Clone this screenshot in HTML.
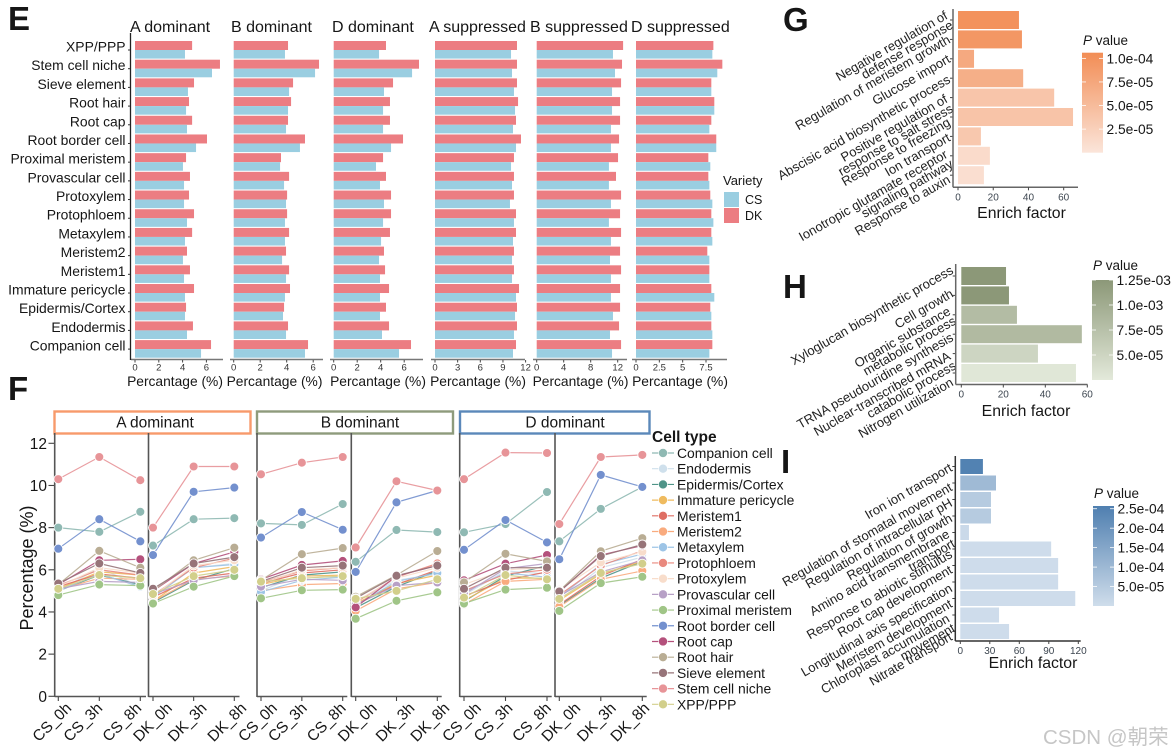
<!DOCTYPE html>
<html lang="en">
<head>
<meta charset="utf-8">
<title>Cell type expression panels</title>
<style>
html,body{margin:0;padding:0;background:#fff;}
svg{display:block;font-family:"Liberation Sans","Noto Sans CJK SC",sans-serif;}
text{fill:#161616;}
</style>
</head>
<body>
<svg id="figure" xmlns="http://www.w3.org/2000/svg" width="1174" height="756" viewBox="0 0 1174 756">
  <defs>
    <linearGradient id="gradG" x1="0" y1="0" x2="0" y2="1"><stop offset="0" stop-color="#F28D55"/><stop offset="1" stop-color="#FBE5DA"/></linearGradient>
    <linearGradient id="gradH" x1="0" y1="0" x2="0" y2="1"><stop offset="0" stop-color="#8C9878"/><stop offset="1" stop-color="#E3E9DA"/></linearGradient>
    <linearGradient id="gradI" x1="0" y1="0" x2="0" y2="1"><stop offset="0" stop-color="#4F7FB0"/><stop offset="1" stop-color="#CFDDEB"/></linearGradient>
  </defs>
  <text x="8" y="30" font-size="33" font-weight="bold">E</text>
  <text x="8" y="400" font-size="33" font-weight="bold">F</text>
  <text x="783" y="31" font-size="33" font-weight="bold">G</text>
  <text x="783" y="298" font-size="33" font-weight="bold">H</text>
  <text x="781" y="473" font-size="33" font-weight="bold">I</text>
  <text x="723" y="185" font-size="13">Variety</text>
  <rect x="724" y="192" width="15" height="15" fill="#9ACEE1"/>
  <rect x="724" y="208" width="15" height="15" fill="#EC7D82"/>
  <text x="745" y="204" font-size="12.5">CS</text>
  <text x="745" y="220" font-size="12.5">DK</text>
  <text x="652" y="442" font-size="15.5" font-weight="bold">Cell type</text>
  <text transform="translate(33,568) rotate(-90)" text-anchor="middle" font-size="18">Percentage (%)</text>
  <text x="1043" y="744" font-size="20.5" style="fill:#c6c6c6">CSDN @朝荣</text>
</svg>
<script>
// ---------- Panel E data (top to bottom) ----------
const cellTypesE = ['XPP/PPP','Stem cell niche','Sieve element','Root hair','Root cap','Root border cell','Proximal meristem','Provascular cell','Protoxylem','Protophloem','Metaxylem','Meristem2','Meristem1','Immature pericycle','Epidermis/Cortex','Endodermis','Companion cell'];
const aDominantDK = [4.8,7.14,4.96,4.54,4.8,6.05,4.29,4.62,4.54,4.96,4.8,4.37,4.62,4.96,4.29,4.87,6.39];
const aDominantCS = [4.2,6.47,4.45,4.29,4.37,5.13,4.03,4.12,4.12,4.37,4.2,4.03,4.12,4.2,4.2,4.37,5.55];
const bDominantDK = [4.1,6.44,4.48,4.33,4.1,5.38,3.57,4.18,4.03,4.03,4.18,3.95,4.18,4.25,3.8,4.1,5.61];
const bDominantCS = [3.87,6.14,4.18,4.1,3.95,5.0,3.5,3.8,3.95,3.87,3.87,3.65,3.95,3.87,3.72,3.95,5.38];
const dDominantDK = [4.45,7.26,5.05,4.79,4.79,5.9,4.2,4.45,4.88,4.88,4.79,4.28,4.37,4.71,4.45,4.71,6.58];
const dDominantCS = [3.86,6.67,4.28,4.2,4.2,4.88,3.6,3.94,4.28,4.2,4.03,3.86,3.94,3.94,3.94,4.11,5.56];
const aSuppressedDK = [10.86,10.86,10.86,11,10.73,11.39,10.46,10.46,10.46,10.73,10.73,10.46,10.46,11.13,10.86,10.86,10.73];
const aSuppressedCS = [10.07,10.2,10.46,10.6,10.33,10.73,10.07,10.2,9.93,10.46,10.33,10.2,10.2,10.73,10.6,10.46,10.33];
const bSuppressedDK = [12.8,12.64,12.5,12.35,12.35,12.2,12.05,11.75,12.5,12.35,12.5,12.35,12.5,12.35,12.35,12.2,12.5];
const bSuppressedCS = [11.3,11.6,11.16,11.16,11,11,10.7,10.7,11,10.7,11,10.86,11,11,11.3,10.86,11.16];
const dSuppressedDK = [8.29,9.25,8.07,8.39,8.07,8.6,7.75,7.75,7.96,8.07,8.07,7.64,7.86,8.07,7.96,8.07,8.18];
const dSuppressedCS = [8.18,8.71,8.07,8.39,7.86,8.6,7.96,7.86,8.18,8.29,8.18,7.86,7.86,8.39,8.07,8.18,7.86];
const ticksAB = [0,2,4,6];
const ticksASup = [0,3,6,9,12];
const ticksBSup = [0,4,8,12];
const ticksDSup = [0,2.5,5,7.5];

// ---------- Panel F data ----------
const legendTypes = ['Companion cell','Endodermis','Epidermis/Cortex','Immature pericycle','Meristem1','Meristem2','Metaxylem','Protophloem','Protoxylem','Provascular cell','Proximal meristem','Root border cell','Root cap','Root hair','Sieve element','Stem cell niche','XPP/PPP'];
const legendColors = ['#8FB9B3','#CFE0EC','#4F9488','#EFBB5F','#DF6E63','#F9AB7E','#9DC4E6','#E9897E','#F8DDCB','#B7A0C6','#A0C587','#7390CE','#B4517C','#B9AD94','#977479','#E79498','#D2CF8B'];
const timepoints = ['CS_0h','CS_3h','CS_8h','DK_0h','DK_3h','DK_8h'];
const yTicksF = [0,2,4,6,8,10,12];
// one row per legend entry: CS_0h, CS_3h, CS_8h, DK_0h, DK_3h, DK_8h
const aDominantLines = [
[8.0,7.8,8.75,7.15,8.4,8.45],
[5.0,6.1,5.2,4.7,6.1,6.3],
[5.0,5.75,5.3,4.45,5.5,6.05],
[5.1,5.9,5.75,4.5,5.85,6.15],
[5.2,5.8,5.6,4.7,5.6,5.85],
[5.05,5.6,5.55,4.5,5.55,5.7],
[5.0,5.8,5.2,4.7,6.1,6.25],
[5.25,6.0,5.75,4.8,6.1,6.55],
[5.2,6.1,5.85,4.75,6.2,6.45],
[5.1,5.45,5.4,4.85,5.5,5.75],
[4.8,5.3,5.25,4.4,5.2,5.7],
[7.0,8.4,7.35,6.7,9.7,9.9],
[5.3,6.45,6.5,5.0,6.3,6.85],
[5.3,6.9,6.1,5.0,6.45,7.05],
[5.35,6.3,5.85,5.1,6.3,6.6],
[10.3,11.35,10.25,8.0,10.9,10.9],
[5.1,5.75,5.6,4.85,5.7,6.0]];
const bDominantLines = [
[8.2,8.13,9.12,6.38,7.89,7.79],
[5.0,5.8,5.6,4.5,5.5,5.8],
[5.15,5.75,5.9,4.2,5.2,5.95],
[5.3,5.7,5.75,4.4,5.35,5.75],
[5.35,5.85,6.0,4.35,5.3,6.0],
[5.0,5.3,5.35,4.05,5.1,5.4],
[4.95,5.5,5.65,4.3,5.45,5.85],
[5.4,5.95,6.1,4.45,5.65,6.3],
[5.35,6.0,6.1,4.5,5.6,6.1],
[5.2,5.55,5.5,4.35,5.25,5.4],
[4.65,5.03,5.06,3.68,4.53,4.93],
[7.53,8.74,7.9,5.9,9.2,9.76],
[5.55,6.23,6.42,4.22,5.7,6.2],
[5.5,6.74,7.03,4.72,5.75,6.89],
[5.45,6.1,6.2,4.65,5.72,6.2],
[10.53,11.08,11.35,7.06,10.2,9.76],
[5.44,5.6,5.7,4.62,5.0,5.55]];
const dDominantLines = [
[7.78,8.17,9.69,7.35,8.89,9.93],
[4.8,5.95,5.8,4.55,6.1,6.6],
[4.5,5.7,6.2,4.3,5.6,6.4],
[4.55,5.6,5.6,4.55,5.8,6.4],
[4.75,5.5,5.9,4.35,5.7,6.5],
[4.36,5.45,5.55,4.25,5.55,5.95],
[4.95,5.85,5.65,4.7,6.25,6.75],
[5.0,5.8,6.0,4.8,6.2,6.9],
[5.3,6.0,6.1,5.05,6.35,6.85],
[4.85,6.05,6.3,4.75,5.9,6.45],
[4.4,5.06,5.15,4.05,5.37,5.67],
[6.95,8.36,7.3,6.5,10.5,9.93],
[5.5,6.29,6.7,4.95,6.7,7.15],
[5.4,6.76,6.4,5.0,6.88,7.5],
[5.1,6.1,6.1,4.97,6.65,7.2],
[10.3,11.56,11.54,8.17,11.35,11.45],
[4.68,5.75,5.55,4.62,5.85,6.29]];

// ---------- Panels G, H, I data ----------
const termsG = [['Negative regulation of','defense response'],['Regulation of meristem growth'],['Glucose import'],['Abscisic acid biosynthetic process'],['Positive regulation of','response to salt stress'],['Response to freezing'],['Ion transport'],['Ionotropic glutamate receptor','signaling pathway'],['Response to auxin']];
const enrichG = [34.6,36.3,9.1,37,54.6,65.3,13,18.1,14.7];
const pValueG = [1.0e-4,9.4e-5,7.2e-5,6.5e-5,3.8e-5,4.0e-5,3.5e-5,1.2e-5,0.8e-5];
const xTicksG = [0,20,40,60];
const pTicksG = [1.0e-4,7.5e-5,5.0e-5,2.5e-5];
const pLabelsG = ['1.0e-04','7.5e-05','5.0e-05','2.5e-05'];

const termsH = [['Xyloglucan biosynthetic process'],['Cell growth'],['Organic substance','metabolic process'],['TRNA pseudouridine synthesis'],['Nuclear-transcribed mRNA','catabolic process'],['Nitrogen utilization']];
const enrichH = [21.3,22.7,26.5,57.4,36.5,54.6];
const pValueH = [125,125,80,83,50,28];
const xTicksH = [0,20,40,60];
const pTicksH = [125,100,75,50];
const pLabelsH = ['1.25e-03','1.0e-03','7.5e-05','5.0e-05'];

const termsI = [['Iron ion transport'],['Regulation of stomatal movement'],['Regulation of intracellular pH'],['Regulation of growth'],['Amino acid transmembrane','transport'],['Response to abiotic stimulus'],['Root cap development'],['Longitudinal axis specification'],['Meristem development'],['Chloroplast accumulation','movement'],['Nitrate transport']];
const enrichI = [23,36.3,31.2,31.2,8.8,92.4,99.5,99.5,116.9,39.4,49.6];
const pValueI = [2.5e-4,0.96e-4,0.5e-4,0.5e-4,0.1e-4,0.02e-4,0.02e-4,0.02e-4,0.02e-4,0.02e-4,0.02e-4];
const xTicksI = [0,30,60,90,120];
const pTicksI = [2.5e-4,2.0e-4,1.5e-4,1.0e-4,5.0e-5];
const pLabelsI = ['2.5e-04','2.0e-04','1.5e-04','1.0e-04','5.0e-05'];

// ---------- helpers ----------
const svg = document.getElementById('figure');
const NS = 'http://www.w3.org/2000/svg';
function make(tag, props, parent) {
  const node = document.createElementNS(NS, tag);
  for (const k in props) node.setAttribute(k, props[k]);
  (parent || svg).appendChild(node);
  return node;
}
function linear(d0, d1, r0, r1) {
  return v => r0 + (v - d0) * (r1 - r0) / (d1 - d0);
}
function hex(c) { return [1,3,5].map(i => parseInt(c.substr(i,2),16)); }
function ramp(c0, c1, t) {
  t = Math.max(0, Math.min(1, t));
  const a = hex(c0), b = hex(c1);
  return 'rgb(' + a.map((v,i) => Math.round(v + (b[i]-v)*t)).join(',') + ')';
}

// ---------- Panel E ----------
const rowY = linear(0, 16, 41, 340.1);
function barPanel(cfg) {
  const g = make('g', {});
  
  
  const x = linear(0, cfg.tick1v, cfg.x0, cfg.tick1x);
  const title = make('text', {x: cfg.titleX, y: 32, 'font-size': 16}, g);
  title.textContent = cfg.title;
  
  
  cellTypesE.forEach((c, i) => {
    const red = make('rect', {x: cfg.x0, y: rowY(i), width: x(cfg.dk[i]) - cfg.x0, height: 9, fill: '#EC7D82'}, g);
    
    
    const blue = make('rect', {x: cfg.x0, y: rowY(i) + 9, width: x(cfg.cs[i]) - cfg.x0, height: 8.6, fill: '#9ACEE1'}, g);
    
    
  });
  const axis = make('line', {x1: cfg.axisL, x2: cfg.axisR, y1: 359.5, y2: 359.5, stroke: '#777', 'stroke-width': 1.4}, g);
  
  
  cfg.ticks.forEach(t => {
    const tk = make('line', {x1: x(t), x2: x(t), y1: 360, y2: 362.5, stroke: '#444', 'stroke-width': 1}, g);
    
    
    const lb = make('text', {x: x(t), y: 370.5, 'font-size': 9.5, 'text-anchor': 'middle', style: 'fill:#333'}, g);
    lb.textContent = t;
    
    
  });
  const at = make('text', {x: cfg.axisTitleX, y: 386, 'font-size': 13.8, 'text-anchor': 'middle'}, g);
  at.textContent = 'Percantage (%)';
  
  
}
barPanel({name:'a-dominant', title:'A dominant', titleX:130, x0:135, tick1v:6, tick1x:206.4, axisL:131, axisR:223, axisTitleX:175, ticks:ticksAB, dk:aDominantDK, cs:aDominantCS});
barPanel({name:'b-dominant', title:'B dominant', titleX:231, x0:233.7, tick1v:6, tick1x:313.2, axisL:230, axisR:323, axisTitleX:274.5, ticks:ticksAB, dk:bDominantDK, cs:bDominantCS});
barPanel({name:'d-dominant', title:'D dominant', titleX:332, x0:333.7, tick1v:6, tick1x:404.2, axisL:330, axisR:423, axisTitleX:378, ticks:ticksAB, dk:dDominantDK, cs:dDominantCS});
barPanel({name:'a-suppressed', title:'A suppressed', titleX:429, x0:435, tick1v:12, tick1x:525.6, axisL:431, axisR:525, axisTitleX:478, ticks:ticksASup, dk:aSuppressedDK, cs:aSuppressedCS});
barPanel({name:'b-suppressed', title:'B suppressed', titleX:530, x0:536.7, tick1v:12, tick1x:617.7, axisL:533, axisR:627, axisTitleX:580.5, ticks:ticksBSup, dk:bSuppressedDK, cs:bSuppressedCS});
barPanel({name:'d-suppressed', title:'D suppressed', titleX:631, x0:636, tick1v:7.5, tick1x:706, axisL:632, axisR:727, axisTitleX:680, ticks:ticksDSup, dk:dSuppressedDK, cs:dSuppressedCS});

const eAxis = make('line', {x1: 130.5, x2: 130.5, y1: 33, y2: 360, stroke: '#222', 'stroke-width': 1.3});


cellTypesE.forEach((c, i) => {
  const ty = rowY(i) + 9;
  const tk = make('line', {x1: 128, x2: 130, y1: ty, y2: ty, stroke: '#333', 'stroke-width': 1});
  
  
  const lb = make('text', {x: 125.5, y: ty + 1.5, 'font-size': 13.9, 'text-anchor': 'end'});
  lb.textContent = c;
  
  
});

// ---------- Panel F ----------
const yF = linear(0, 12, 696.3, 443.3);
function facet(cfg) {
  const g = make('g', {});
  
  
  const strip = make('rect', {x: cfg.stripL, y: 411.5, width: cfg.stripR - cfg.stripL, height: 22, fill: '#fff', stroke: cfg.color, 'stroke-width': 2.4}, g);
  
  
  const st = make('text', {x: cfg.stripTextX, y: 427.5, 'font-size': 15.5, 'text-anchor': 'middle'}, g);
  st.textContent = cfg.title;
  
  
  [[cfg.csLeft, cfg.csRight, cfg.csX, 0], [cfg.dkLeft, cfg.dkRight, cfg.dkX, 3]].forEach(p => {
    const x = linear(0, 2, p[2][0], p[2][1]);
    const v = make('line', {x1: p[0], x2: p[0], y1: 433, y2: 697, stroke: '#555', 'stroke-width': 1.6}, g);
    
    
    const h = make('line', {x1: p[0], x2: p[1], y1: 696.5, y2: 696.5, stroke: '#555', 'stroke-width': 1.4}, g);
    
    
    [0,1,2].forEach(j => {
      const tk = make('line', {x1: x(j), x2: x(j), y1: 697, y2: 701, stroke: '#444', 'stroke-width': 1.1}, g);
      
      
      const lb = make('text', {transform: 'translate(' + (x(j) + cfg.labelShift[j + p[3]]) + ',709) rotate(-45)', 'text-anchor': 'end', 'font-size': 15.5}, g);
      lb.textContent = timepoints[j + p[3]];
      
      
    });
    cfg.lines.forEach((row, s) => {
      const pts = [0,1,2].map(j => x(j).toFixed(1) + ',' + yF(row[j + p[3]]).toFixed(1)).join(' ');
      const pl = make('polyline', {points: pts, fill: 'none', stroke: legendColors[s], 'stroke-width': 1.2, 'stroke-opacity': 0.9}, g);
      
      
    });
    cfg.lines.forEach((row, s) => {
      [0,1,2].forEach(j => {
        const c = make('circle', {cx: x(j), cy: yF(row[j + p[3]]), r: 4.5, fill: legendColors[s], stroke: '#fff', 'stroke-width': 0.9}, g);
        
        
      });
    });
  });
}
facet({name:'a-dominant', title:'A dominant', color:'#F79A6B', stripL:54.5, stripR:250.5, stripTextX:155, csLeft:54.7, csRight:146, csX:[58.3,140.3], dkLeft:148.5, dkRight:239.5, dkX:[153,234.3], labelShift:[14,4,2,20,14,13], lines:aDominantLines});
facet({name:'b-dominant', title:'B dominant', color:'#8E9B7C', stripL:257, stripR:453, stripTextX:360, csLeft:257, csRight:347.3, csX:[261,342.7], dkLeft:351.3, dkRight:441.7, dkX:[355.7,437.3], labelShift:[17,6,4,22,19,13], lines:bDominantLines});
facet({name:'d-dominant', title:'D dominant', color:'#5B88BA', stripL:460, stripR:649.5, stripTextX:565, csLeft:459.7, csRight:551.7, csX:[464,547], dkLeft:555, dkRight:646.7, dkX:[559.3,642.3], labelShift:[18,8,5,22,16,8], lines:dDominantLines});

yTicksF.forEach(t => {
  const tk = make('line', {x1: 48.5, x2: 54, y1: yF(t), y2: yF(t), stroke: '#444', 'stroke-width': 1.1});
  
  
  const lb = make('text', {x: 47, y: yF(t) + 5.5, 'text-anchor': 'end', 'font-size': 15.5});
  lb.textContent = t;
  
  
});

const legendY = linear(0, 16, 453, 704.3);
legendTypes.forEach((name, i) => {
  const y = legendY(i);
  const l = make('line', {x1: 652, x2: 674, y1: y, y2: y, stroke: legendColors[i], 'stroke-width': 1.2});
  
  
  const c = make('circle', {cx: 663, cy: y, r: 4.5, fill: legendColors[i], stroke: '#fff', 'stroke-width': 0.6});
  
  
  const t = make('text', {x: 677, y: y + 5, 'font-size': 13.9});
  t.textContent = name;
  
  
});

// ---------- Panels G, H, I ----------
function enrichPanel(cfg) {
  const g = make('g', {});
  
  
  const x = linear(0, cfg.tickV, cfg.x0, cfg.tickX);
  const shade = v => ramp(cfg.hi, cfg.lo, (cfg.pTop - v) / (cfg.pTop - cfg.pBottom));
  const pY = linear(cfg.pTop, cfg.pBottom, cfg.barTop, cfg.barBottom);
  cfg.values.forEach((v, i) => {
    const top = cfg.rowTop + i * cfg.rowStep;
    const b = make('rect', {x: cfg.x0, y: top, width: x(v) - cfg.x0, height: cfg.rowH, fill: shade(cfg.p[i])}, g);
    
    
    const cy = top + cfg.rowH / 2;
    const tk = make('line', {x1: cfg.axisX - 3, x2: cfg.axisX, y1: cy, y2: cy, stroke: '#444', 'stroke-width': 1}, g);
    
    
    cfg.terms[i].forEach((line, k) => {
      const dy = (k - (cfg.terms[i].length - 1) / 2) * 11 + 4.5;
      const t = make('text', {transform: 'translate(' + cfg.labelX + ',' + (cy + cfg.labelNudge[i]) + ') rotate(-30)', y: dy, 'text-anchor': 'end', 'font-size': 13, style: 'fill:#222'}, g);
      t.textContent = line;
      
      
    });
  });
  const ya = make('line', {x1: cfg.axisX, x2: cfg.axisX, y1: cfg.axisTop, y2: cfg.axisY, stroke: cfg.axisColor, 'stroke-width': 1.5}, g);
  
  
  const xa = make('line', {x1: cfg.axisX, x2: cfg.axisR, y1: cfg.axisY, y2: cfg.axisY, stroke: cfg.axisColor, 'stroke-width': 1.5}, g);
  
  
  cfg.ticks.forEach(t => {
    const tk = make('line', {x1: x(t), x2: x(t), y1: cfg.axisY, y2: cfg.axisY + 3, stroke: '#444', 'stroke-width': 1}, g);
    
    
    const lb = make('text', {x: x(t), y: cfg.axisY + 13, 'font-size': 10, 'text-anchor': 'middle', style: 'fill:#3d4650'}, g);
    lb.textContent = t;
    
    
  });
  const at = make('text', {x: cfg.titleX, y: cfg.titleY, 'font-size': 15.8, 'text-anchor': 'middle'}, g);
  at.textContent = 'Enrich factor';
  
  
  const cb = make('rect', {x: cfg.barX, y: cfg.barTop, width: 21, height: cfg.barBottom - cfg.barTop, fill: 'url(#' + cfg.grad + ')'}, g);
  
  
  cfg.pTicks.forEach((v, i) => {
    const y = pY(v);
    const a = make('line', {x1: cfg.barX, x2: cfg.barX + 4, y1: y, y2: y, stroke: '#fff', 'stroke-width': 0.8}, g);
    
    
    const b = make('line', {x1: cfg.barX + 17, x2: cfg.barX + 21, y1: y, y2: y, stroke: '#fff', 'stroke-width': 0.8}, g);
    
    
    const lb = make('text', {x: cfg.barX + 24.5, y: y + 5, 'font-size': 13.8}, g);
    lb.textContent = cfg.pLabels[i];
    
    
  });
  const pt = make('text', {x: cfg.barX + 1, y: cfg.pTitleY, 'font-size': 13.5}, g);
  
  
  const ps = make('tspan', {'font-style': 'italic'}, pt);
  ps.textContent = 'P';
  const ps2 = make('tspan', {}, pt);
  ps2.textContent = ' value';
}
enrichPanel({name:'g', terms:termsG, values:enrichG, p:pValueG, ticks:xTicksG, pTicks:pTicksG, pLabels:pLabelsG, labelNudge:[-1,-1,-1,0,5,4,0,2,3],
  x0:958, tickV:60, tickX:1063.7, rowTop:11, rowStep:19.4, rowH:18, axisX:953, axisTop:9, axisY:187.3, axisR:1078, axisColor:'#666', labelX:949,
  titleX:1021.5, titleY:218, barX:1082, barTop:52.7, barBottom:152.7, pTitleY:45, pTop:1.06e-4, pBottom:0, hi:'#F28D55', lo:'#FBE5DA', grad:'gradG'});
enrichPanel({name:'h', terms:termsH, values:enrichH, p:pValueH, ticks:xTicksH, pTicks:pTicksH, pLabels:pLabelsH, labelNudge:[-7,-3,0,2,6,8],
  x0:961.3, tickV:60, tickX:1087.3, rowTop:267, rowStep:19.4, rowH:18, axisX:955.7, axisTop:264, axisY:384.5, axisR:1087.5, axisColor:'#666', labelX:952,
  titleX:1026, titleY:416, barX:1092, barTop:280, barBottom:380, pTitleY:270, pTop:125, pBottom:25, hi:'#8C9878', lo:'#E3E9DA', grad:'gradH'});
enrichPanel({name:'i', terms:termsI, values:enrichI, p:pValueI, ticks:xTicksI, pTicks:pTicksI, pLabels:pLabelsI, labelNudge:[0,3,2,1,5,4,3,5,4,7,4],
  x0:960.3, tickV:120, tickX:1078.3, rowTop:459, rowStep:16.5, rowH:15, axisX:955.3, axisTop:456, axisY:641, axisR:1080.7, axisColor:'#333', labelX:951,
  titleX:1033, titleY:668, barX:1093, barTop:506, barBottom:606, pTitleY:498, pTop:2.57e-4, pBottom:0, hi:'#4F7FB0', lo:'#CFDDEB', grad:'gradI'});
</script>
</body>
</html>
